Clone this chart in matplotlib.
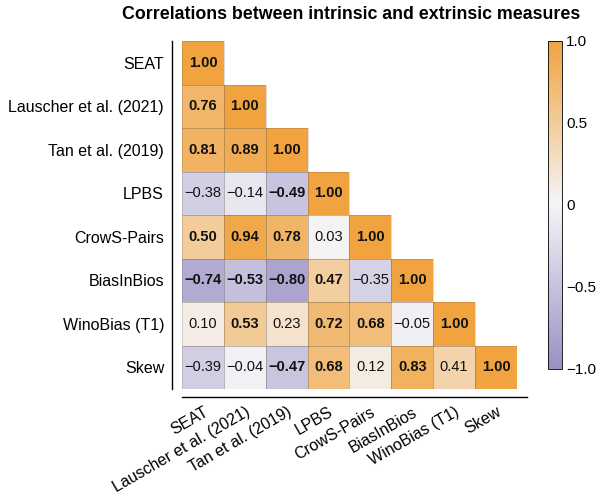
import numpy as np
import matplotlib
matplotlib.use("Agg")
import matplotlib.pyplot as plt
from matplotlib.colors import LinearSegmentedColormap
from matplotlib.patches import Rectangle

plt.rcParams['font.family'] = ['Liberation Sans', 'DejaVu Sans']

measures = ["SEAT", "Lauscher et al. (2021)", "Tan et al. (2019)", "LPBS",
            "CrowS-Pairs", "BiasInBios", "WinoBias (T1)", "Skew"]

# lower triangle, row by row
row_seat = [1.00]
row_lauscher = [0.76, 1.00]
row_tan = [0.81, 0.89, 1.00]
row_lpbs = [-0.38, -0.14, -0.49, 1.00]
row_crows = [0.50, 0.94, 0.78, 0.03, 1.00]
row_bios = [-0.74, -0.53, -0.80, 0.47, -0.35, 1.00]
row_wino = [0.10, 0.53, 0.23, 0.72, 0.68, -0.05, 1.00]
row_skew = [-0.39, -0.04, -0.47, 0.68, 0.12, 0.83, 0.41, 1.00]

# which cells are shown in bold (significant)
bold_seat = [1]
bold_lauscher = [1, 1]
bold_tan = [1, 1, 1]
bold_lpbs = [0, 0, 1, 1]
bold_crows = [1, 1, 1, 0, 1]
bold_bios = [1, 1, 1, 1, 0, 1]
bold_wino = [0, 1, 0, 1, 1, 0, 1]
bold_skew = [0, 0, 1, 1, 0, 1, 0, 1]

rows = [row_seat, row_lauscher, row_tan, row_lpbs, row_crows, row_bios, row_wino, row_skew]
bolds = [bold_seat, bold_lauscher, bold_tan, bold_lpbs, bold_crows, bold_bios, bold_wino, bold_skew]

n = len(measures)
M = np.full((n, n), np.nan)
B = np.zeros((n, n), dtype=bool)
for i, (r, b) in enumerate(zip(rows, bolds)):
    M[i, :len(r)] = r
    B[i, :len(b)] = b

cmap = LinearSegmentedColormap.from_list(
    "puor", ["#9990C4", "#F5F5F7", "#F0A33F"])

fig = plt.figure(figsize=(6.01, 4.95), dpi=100)
ax = fig.add_axes([0.303, 0.214, 0.557, 0.703])
cax = fig.add_axes([0.912, 0.255, 0.023, 0.663])

mesh = ax.pcolormesh(np.ma.masked_invalid(M), cmap=cmap, vmin=-1, vmax=1)
ax.set_xlim(0, n)
ax.set_ylim(n, 0)

# spines first: moving them resets the ticks
for s in ['top', 'right']:
    ax.spines[s].set_visible(False)
ax.spines['left'].set_position(('outward', 7))
ax.spines['bottom'].set_position(('outward', 6))
ax.spines['left'].set_linewidth(1.0)
ax.spines['bottom'].set_linewidth(1.0)
ax.spines['bottom'].set_bounds(0, n + 0.25)
ax.spines['bottom'].set_clip_on(False)

for i in range(n):
    for j in range(n):
        if np.isnan(M[i, j]):
            continue
        ax.add_patch(Rectangle((j, i), 1, 1, fill=False, lw=0.5,
                               edgecolor=(0.4, 0.35, 0.3, 0.3)))
        txt = f"{M[i, j]:.2f}".replace("-", "\u2212")
        ax.text(j + 0.5, i + 0.5, txt, ha='center', va='center', fontsize=10.5,
                color='#111111', fontweight='bold' if B[i, j] else 'normal')

ax.set_xticks(np.arange(n) + 0.5)
ax.set_yticks(np.arange(n) + 0.5)
ax.set_xticklabels(measures, fontsize=11.5, rotation=30, ha='right',
                   rotation_mode='anchor')
ax.set_yticklabels(measures, fontsize=11.5)
ax.tick_params(axis='y', length=0, pad=6)
ax.tick_params(axis='x', length=0, pad=5)

cb = fig.colorbar(mesh, cax=cax)
cb.set_ticks([-1, -0.5, 0, 0.5, 1])
cb.set_ticklabels(["\u22121.0", "\u22120.5", "0", "0.5", "1.0"])
cb.ax.tick_params(length=0, pad=3, labelsize=11)
cb.outline.set_linewidth(0.6)

fig.suptitle("Correlations between intrinsic and extrinsic measures",
             x=0.584, y=0.988, fontsize=12.8, fontweight='bold')

plt.savefig("out.png", dpi=100)
